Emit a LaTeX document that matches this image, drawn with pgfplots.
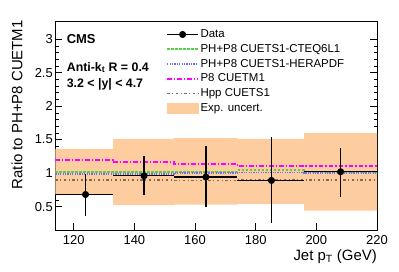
\documentclass[border=0pt]{standalone}
\usepackage{pgfplots}
\pgfplotsset{compat=1.18}
\usepackage{fontspec}
\setmainfont{Liberation Sans}
\definecolor{bandc}{RGB}{253,205,160}
\definecolor{greenc}{RGB}{90,205,70}
\definecolor{bluec}{RGB}{110,110,245}
\definecolor{magc}{RGB}{255,0,255}
\definecolor{brownc}{RGB}{135,105,90}
\pgfplotsset{
  lineleg/.style={legend image code/.code={\draw[##1] (0bp,0bp) -- (31bp,0bp);}},
  dataleg/.style={legend image code/.code={\draw[##1, mark=none] (0bp,0bp) -- (31bp,0bp); \fill[black] (15.5bp,0bp) circle (2.9bp);}},
  boxleg/.style={legend image code/.code={\fill[##1] (0bp,-5.8bp) rectangle (32bp,5.8bp);}},
  greensty/.style={color=greenc, line width=1.8bp, dash pattern=on 2.5bp off 1.5bp},
  bluesty/.style={color=bluec, line width=1.6bp, dash pattern=on 1.2bp off 1.2bp},
  magsty/.style={color=magc, line width=1.8bp, dash pattern=on 4.5bp off 2bp on 1.5bp off 2bp},
  brownsty/.style={color=brownc, line width=1.5bp, dash pattern=on 2.5bp off 2.5bp on 1bp off 2.5bp},
}
\begin{document}
\begin{tikzpicture}
\begin{axis}[
  at={(0,0)}, anchor=south west,
  scale only axis, width=321.5bp, height=208.3bp,
  xmin=114, xmax=220, ymin=0.15, ymax=3.26,
  xtick={120,140,...,220}, ytick={0.5,1,...,3},
  minor y tick num=4,
  xtick pos=left, ytick pos=both,
  tick align=inside,
  major tick length=7bp, minor tick length=3.5bp,
  tick style={black, line width=0.5bp},
  axis line style={line width=0.6bp},
  /pgf/number format/assume math mode=true,
  ticklabel style={font=\fontsize{13}{15}\selectfont},
  xticklabel style={inner sep=0pt, yshift=-5.5bp},
  yticklabel style={inner sep=0pt, xshift=-2.5bp},
  xlabel={Jet p\textsubscript{T} (GeV)},
  ylabel={Ratio to PH+P8 CUETM1},
  label style={font=\fontsize{15}{17}\selectfont},
  xlabel style={at={(axis description cs:1,0)}, anchor=base east, yshift=-30bp, inner sep=0pt},
  ylabel style={at={(axis description cs:-0.12,1.008)}, anchor=east, inner sep=0pt},
  legend cell align=left,
  legend style={at={(axis description cs:0.3437,0.972)}, anchor=north west, draw=none, fill=none,
    inner sep=0pt, row sep=1.3bp, column sep=0pt,
    font=\fontsize{11.5}{13}\selectfont,
    nodes={inner sep=1.5bp, text height=8.3bp, text depth=2.2bp}},
]
% experimental uncertainty band (per-bin lower and upper edges)
\addplot[fill=bandc, draw=none, forget plot] coordinates {
  (114,0.68) (133,0.68) (133,0.52) (153,0.52) (153,0.53) (174,0.53)
  (174,0.54) (196,0.54) (196,0.44) (220,0.44)
  (220,1.60) (196,1.60) (196,1.51) (174,1.51) (174,1.52) (153,1.52)
  (153,1.51) (133,1.51) (133,1.36) (114,1.36)} -- cycle;
% models
\addplot[const plot, mark=none, greensty, forget plot] coordinates {
  (114,1.015) (133,1.02) (153,1.02) (174,1.04) (196,1.015) (220,1.015)};
\addplot[const plot, mark=none, bluesty, forget plot] coordinates {
  (114,0.99) (133,0.99) (153,1.0) (174,1.01) (196,1.0) (220,1.0)};
\addplot[const plot, mark=none, magsty, forget plot] coordinates {
  (114,1.20) (133,1.17) (153,1.14) (174,1.11) (196,1.10) (220,1.10)};
\addplot[const plot, mark=none, brownsty, forget plot] coordinates {
  (114,0.895) (133,0.895) (153,0.89) (174,0.90) (196,0.90) (220,0.90)};
% data
\addplot[black, only marks, mark=*, mark size=2.9bp, line width=1.2bp, forget plot,
  error bars/.cd, x dir=both, x explicit, y dir=both, y explicit,
  error mark=none, error bar style={line width=1.2bp, black, solid}] coordinates {
  (123.9,0.68) += (9.1,0.31) -= (9.9,0.32)
  (143.2,0.96) += (9.8,0.29) -= (10.2,0.29)
  (163.6,0.94) += (10.4,0.47) -= (10.6,0.45)
  (185.2,0.89) += (10.8,0.65) -= (11.2,0.64)
  (208.0,1.02) += (12.0,0.36) -= (12.0,0.37)
};
% legend
\addlegendimage{black, line width=1.2bp, dataleg}
\addlegendentry{Data}
\addlegendimage{greensty, lineleg}
\addlegendentry{PH+P8 CUETS1-CTEQ6L1}
\addlegendimage{bluesty, lineleg}
\addlegendentry{PH+P8 CUETS1-HERAPDF}
\addlegendimage{magsty, lineleg}
\addlegendentry{P8 CUETM1}
\addlegendimage{brownsty, lineleg}
\addlegendentry{Hpp CUETS1}
\addlegendimage{fill=bandc, draw=none, boxleg}
\addlegendentry{Exp. uncert.}
% text
\node[anchor=base west, font=\bfseries\fontsize{13}{15}\selectfont] at (axis description cs:0.0243,0.896) {CMS};
\node[anchor=base west, font=\bfseries\fontsize{12.4}{14}\selectfont] at (axis description cs:0.0243,0.763) {Anti-k\textsubscript{t} R = 0.4};
\node[anchor=base west, font=\bfseries\fontsize{12.4}{14}\selectfont] at (axis description cs:0.0243,0.685) {3.2 {\textless} |y| {\textless} 4.7};
\node[anchor=base east, font=\bfseries\fontsize{14.5}{16}\selectfont] at (axis description cs:0.994,1.021) {44 pb\textsuperscript{-1} (13 TeV)};
\end{axis}
\pgfresetboundingbox
\path (-55.5bp,-42bp) rectangle (343.5bp,230bp);
\end{tikzpicture}
\end{document}
